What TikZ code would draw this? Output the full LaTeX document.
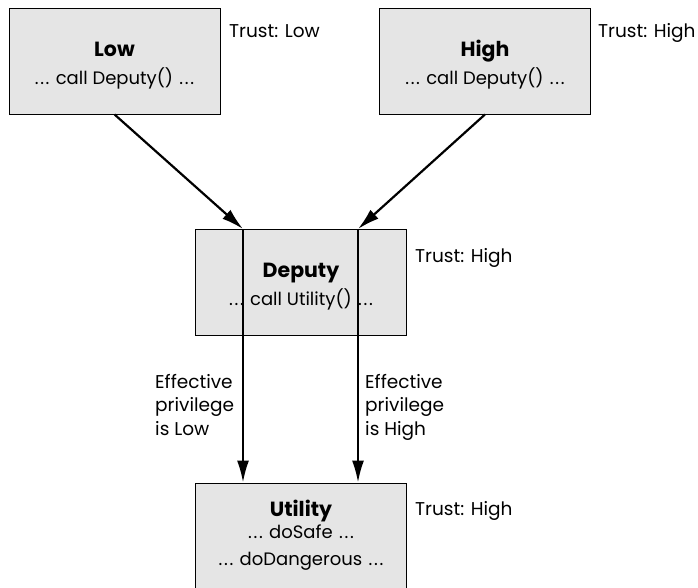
\documentclass[tikz,border=0pt]{standalone}
\usepackage{fontspec}
\setmainfont{Poppins}
\usetikzlibrary{arrows.meta}
\newcommand{\dd}{.\kern1.7pt.\kern1.7pt.}
\newcommand{\boxtitle}[1]{\rule{0pt}{24pt}{\fontsize{20.5}{28}\selectfont\bfseries #1}}
\tikzset{
	box/.style={draw=black, line width=0.9pt, fill=black!10, minimum width=211pt, minimum height=106pt, align=center, inner sep=0pt, font=\fontsize{18}{28}\selectfont},
	trust/.style={anchor=base west, inner sep=0pt, font=\fontsize{18.5}{26}\selectfont},
	effect/.style={anchor=north west, align=left, inner sep=0pt, font=\fontsize{18.5}{23.5}\selectfont},
	call/.style={line width=2.2pt, -{Latex[length=22pt,width=12pt]}}
}

\begin{document}
\begin{tikzpicture}[x=1pt, y=-1pt]
		%%%%% START %%%%%
		\useasboundingbox (0, 0) rectangle (698, 587);
		
		\node[box] (low) at (114.5, 61) {\boxtitle{Low}\\\dd\hspace{0.35em}call Deputy()\hspace{0.35em}\dd};
		\node[box] (high) at (485, 61) {\boxtitle{High}\\\dd\hspace{0.35em}call Deputy()\hspace{0.35em}\dd};
		\node[box] (dep) at (301, 282) {\boxtitle{Deputy}\\\dd\hspace{0.35em}call Utility()\hspace{0.35em}\dd};
		\node[box, minimum height=108pt] (util) at (301, 537) {\boxtitle{Utility}\\[-6pt]\dd\hspace{0.35em}doSafe\hspace{0.35em}\dd\\[-1pt]\dd\hspace{0.35em}doDangerous\hspace{0.35em}\dd\rule[-16pt]{0pt}{16pt}};
		
		\node[trust] (tlow) at (229, 37) {Trust: Low};
		\node[trust] (thigh) at (598, 37) {Trust: High};
		\node[trust] (tdep) at (415, 262) {Trust: High};
		\node[trust] (tutil) at (415, 515) {Trust: High};
		
		\coordinate (inL) at (243, 229);
		\coordinate (inH) at (358, 229);
		
		\draw[call] (low.south) -- (inL);
		\draw[call] (high.south) -- (inH);
		\draw[call] (inL) -- (inL |- util.north);
		\draw[call] (inH) -- (inH |- util.north);
		
		\node[effect] (effL) at (155, 374) {Effective\\privilege\\is Low};
		\node[effect] (effH) at (365, 374) {Effective\\privilege\\is High};
		%%%%% END %%%%%
	\end{tikzpicture}
\end{document}
